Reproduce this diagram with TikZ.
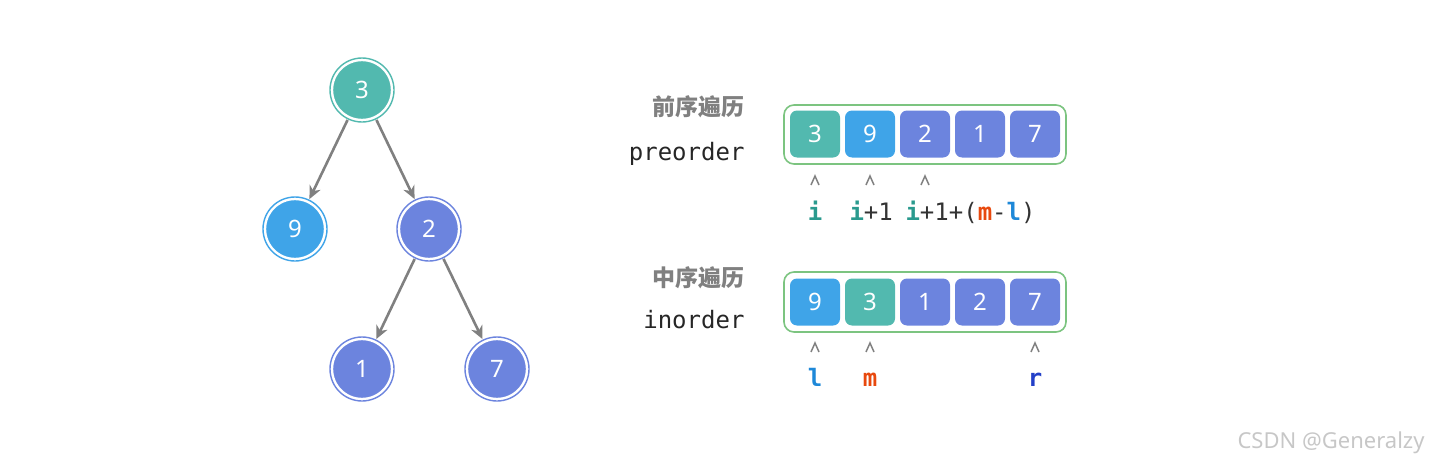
\documentclass[tikz,border=0pt]{standalone}
\usepackage{fontspec}
\setmainfont{Noto Sans}
\newfontfamily\cjk{Noto Sans CJK SC}
\newfontfamily\mono{DejaVu Sans Mono}
\usetikzlibrary{arrows.meta}
\definecolor{cteal}{HTML}{52B9AF}
\definecolor{cblue}{HTML}{3FA4E8}
\definecolor{cpurp}{HTML}{6C84DE}
\definecolor{cgreen}{HTML}{7CC480}
\definecolor{cgray}{HTML}{808080}
\definecolor{ci}{HTML}{2A9A8E}
\definecolor{cm}{HTML}{E8490E}
\definecolor{cl}{HTML}{1E88D8}
\definecolor{cr}{HTML}{2340C8}
\tikzset{
  tn/.style={circle,minimum size=64pt,inner sep=0,fill=#1,draw=white,line width=2.5pt,
     double=#1,double distance=1.4pt,text=white,font=\fontsize{24}{24}\selectfont},
  cell/.style={rounded corners=7pt,minimum width=50pt,minimum height=47pt,fill=#1,text=white,
     font=\fontsize{24}{24}\selectfont},
  frame/.style={draw=cgreen,line width=1.6pt,rounded corners=10pt},
  edge/.style={draw=cgray,line width=2.6pt,-{Stealth[length=13pt,width=12pt,inset=4pt]}},
  cn/.style={font=\cjk\bfseries\fontsize{23}{23}\selectfont,text=cgray,anchor=east},
  mn/.style={font=\mono\fontsize{24}{24}\selectfont,text=black!85,anchor=east},
  ptr/.style={draw=cgray,line width=1.5pt},
  lab/.style={font=\mono\fontsize{24}{24}\selectfont,text=black!80},
}
\begin{document}
\begin{tikzpicture}[x=1pt,y=-1pt]
\useasboundingbox (0,0) rectangle (1433,471);
% tree
\node[tn=cteal] (n3) at (362,90) {3};
\node[tn=cblue] (n9) at (295,229) {9};
\node[tn=cpurp] (n2) at (429,229) {2};
\node[tn=cpurp] (n1) at (362,369) {1};
\node[tn=cpurp] (n7) at (497,369) {7};
\draw[edge] (n3) -- (n9);
\draw[edge] (n3) -- (n2);
\draw[edge] (n2) -- (n1);
\draw[edge] (n2) -- (n7);
% labels
\node[cn] (t1) at (748,107) {前序遍历};
\node[mn] (t2) at (748,154) {preorder};
\node[cn] (t3) at (748,278) {中序遍历};
\node[mn] (t4) at (748,320) {inorder};
% frames
\draw[frame] (784,105) rectangle (1066,164);
\draw[frame] (784,272) rectangle (1066,332);
% cells
\node[cell=cteal] (p1) at (815,134) {3};
\node[cell=cblue] (p2) at (870,134) {9};
\node[cell=cpurp] (p3) at (925,134) {2};
\node[cell=cpurp] (p4) at (980,134) {1};
\node[cell=cpurp] (p5) at (1035,134) {7};
\node[cell=cblue] (q1) at (815,302) {9};
\node[cell=cteal] (q2) at (870,302) {3};
\node[cell=cpurp] (q3) at (925,302) {1};
\node[cell=cpurp] (q4) at (980,302) {2};
\node[cell=cpurp] (q5) at (1035,302) {7};
% pointers
\foreach \x in {815,870,925} \draw[ptr] (\x-4,185) -- (\x,176) -- (\x+4,185);
\foreach \x in {815,870,1035} \draw[ptr] (\x-4,352) -- (\x,343) -- (\x+4,352);
\node[lab,anchor=base] (a1) at (815,220) {\textcolor{ci}{\bfseries i}};
\node[lab,anchor=base west] (a2) at (846,220) {\textcolor{ci}{\bfseries i}+1};
\node[lab,anchor=base west] (a3) at (902,220) {\textcolor{ci}{\bfseries i}+1+(\textcolor{cm}{\bfseries m}-\textcolor{cl}{\bfseries l})};
\node[lab,anchor=base] (b1) at (815,386) {\textcolor{cl}{\bfseries l}};
\node[lab,anchor=base] (b2) at (870,386) {\textcolor{cm}{\bfseries m}};
\node[lab,anchor=base] (b3) at (1035,386) {\textcolor{cr}{\bfseries r}};
\node[font=\fontsize{22}{22}\selectfont,text=black!22,anchor=east] (wm) at (1428,443) {CSDN @Generalzy};
\end{tikzpicture}
\end{document}
